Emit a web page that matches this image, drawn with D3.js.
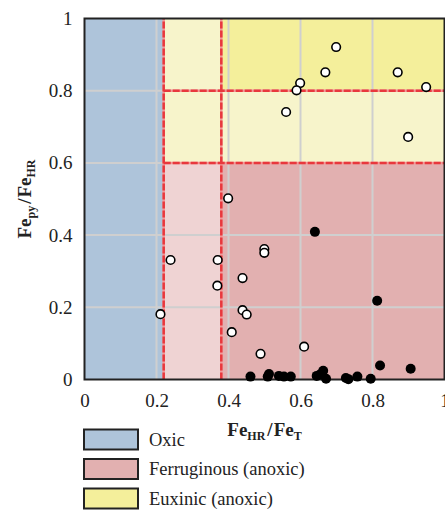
<!DOCTYPE html>
<html>
<head>
<meta charset="utf-8">
<script src="https://cdn.jsdelivr.net/npm/d3@7"></script>
<style>
  body { margin: 0; background: #fff; }
  text { font-family: "Liberation Serif", "DejaVu Serif", serif; }
</style>
</head>
<body>
<div id="chart"></div>
<script>
// axis ticks
var xTicks = [0, 0.2, 0.4, 0.6, 0.8, 1];
var yTicks = [0, 0.2, 0.4, 0.6, 0.8, 1];

// thresholds (FeHR/FeT and Fepy/FeHR)
var feHrLimits = [0.22, 0.38];
var fePyLimits = [0.6, 0.8];

// open circles
var openX = [0.699, 0.669, 0.599, 0.589, 0.870, 0.949, 0.560, 0.899, 0.399, 0.239, 0.370, 0.369, 0.211,
             0.4995, 0.4995, 0.439, 0.439, 0.4505, 0.409, 0.489, 0.610];
var openY = [0.921, 0.851, 0.821, 0.801, 0.851, 0.810, 0.741, 0.672, 0.502, 0.331, 0.331, 0.260, 0.181,
             0.3615, 0.351, 0.281, 0.192, 0.180, 0.131, 0.071, 0.091];

// filled circles
var filledX = [0.640, 0.813, 0.821, 0.906, 0.461, 0.5125, 0.509, 0.540, 0.554, 0.573,
               0.645, 0.654, 0.663, 0.671, 0.726, 0.733, 0.758, 0.795];
var filledY = [0.409, 0.218, 0.039, 0.030, 0.008, 0.015, 0.008, 0.010, 0.008, 0.008,
               0.010, 0.014, 0.024, 0.002, 0.004, 0.001, 0.008, 0.002];

var legendLabels = ["Oxic", "Ferruginous (anoxic)", "Euxinic (anoxic)"];
var legendColors = ["#aec4da", "#e2b0b0", "#f4ef9b"];

var width = 445, height = 511;
var svg = d3.select("#chart").append("svg")
    .attr("width", width)
    .attr("height", height);

var x = d3.scaleLinear().domain([0, 1]).range([84.5, 444.5]);
var y = d3.scaleLinear().domain([0, 1]).range([379.5, 18.5]);

// background regions
var regions = [
  {x0: 0, x1: feHrLimits[0], y0: 0, y1: 1, c: "#aec4da"},
  {x0: feHrLimits[0], x1: feHrLimits[1], y0: 0, y1: fePyLimits[0], c: "#efd3d3"},
  {x0: feHrLimits[0], x1: feHrLimits[1], y0: fePyLimits[0], y1: 1, c: "#f7f4cb"},
  {x0: feHrLimits[1], x1: 1, y0: 0, y1: fePyLimits[0], c: "#e2b0b0"},
  {x0: feHrLimits[1], x1: 1, y0: fePyLimits[0], y1: fePyLimits[1], c: "#f7f4cb"},
  {x0: feHrLimits[1], x1: 1, y0: fePyLimits[1], y1: 1, c: "#f4ef9b"}
];
svg.selectAll(".region")
    .data(regions)
    .enter().append("rect")
    .attr("x", d => x(d.x0))
    .attr("y", d => y(d.y1))
    .attr("width", d => x(d.x1) - x(d.x0))
    .attr("height", d => y(d.y0) - y(d.y1))
    .attr("fill", d => d.c);

// grid
svg.selectAll(".vgrid")
    .data(xTicks.slice(1, -1))
    .enter().append("line")
    .attr("x1", d => x(d)).attr("x2", d => x(d))
    .attr("y1", y(1)).attr("y2", y(0))
    .attr("stroke", "#cfcfcf").attr("stroke-width", 2);
svg.selectAll(".hgrid")
    .data(yTicks.slice(1, -1))
    .enter().append("line")
    .attr("x1", x(0)).attr("x2", x(1))
    .attr("y1", d => y(d)).attr("y2", d => y(d))
    .attr("stroke", "#cfcfcf").attr("stroke-width", 2);

// red dashed threshold lines
var redLines = feHrLimits.map(v => ({x1: v, x2: v, y1: 0, y2: 1}))
  .concat(fePyLimits.map(v => ({x1: feHrLimits[0], x2: 1, y1: v, y2: v})));
[["#f29a9a", null], ["#e8383d", "7,2"]].forEach(function(s) {
  svg.selectAll(null)
      .data(redLines)
      .enter().append("line")
      .attr("x1", d => x(d.x1)).attr("x2", d => x(d.x2))
      .attr("y1", d => y(d.y1)).attr("y2", d => y(d.y2))
      .attr("stroke", s[0])
      .attr("stroke-width", 2.5)
      .attr("stroke-dasharray", s[1]);
});

// frame
svg.append("rect")
    .attr("x", x(0)).attr("y", y(1))
    .attr("width", x(1) - x(0)).attr("height", y(0) - y(1))
    .attr("fill", "none").attr("stroke", "#222").attr("stroke-width", 2);

// axes
var xAxis = svg.append("g")
    .attr("transform", "translate(0," + y(0) + ")")
    .call(d3.axisBottom(x).tickValues(xTicks).tickSize(0).tickPadding(14).tickFormat(d3.format("~g")));
var yAxis = svg.append("g")
    .attr("transform", "translate(" + x(0) + ",0)")
    .call(d3.axisLeft(y).tickValues(yTicks).tickSize(0).tickPadding(12).tickFormat(d3.format("~g")));
[xAxis, yAxis].forEach(function(a) {
  a.select(".domain").remove();
  a.selectAll("text")
      .attr("font-size", 19)
      .attr("fill", "#222");
});
yAxis.selectAll("text").attr("dy", "0.32em");

// points
svg.selectAll(".open")
    .data(openX.map((v, i) => [v, openY[i]]))
    .enter().append("circle")
    .attr("cx", d => x(d[0])).attr("cy", d => y(d[1]))
    .attr("r", 4.3)
    .attr("fill", "#fff").attr("stroke", "#000").attr("stroke-width", 1.6);
svg.selectAll(".filled")
    .data(filledX.map((v, i) => [v, filledY[i]]))
    .enter().append("circle")
    .attr("cx", d => x(d[0])).attr("cy", d => y(d[1]))
    .attr("r", 5)
    .attr("fill", "#000");

// axis titles
var xt = svg.append("text")
    .attr("x", (x(0) + x(1)) / 2).attr("y", 436)
    .attr("text-anchor", "middle")
    .attr("font-weight", "bold").attr("font-size", 19).attr("fill", "#222");
xt.append("tspan").text("Fe");
xt.append("tspan").text("HR").attr("font-size", 12).attr("dy", 4);
xt.append("tspan").text("/").attr("dy", -4).attr("dx", 2);
xt.append("tspan").text("Fe").attr("dx", 1);
xt.append("tspan").text("T").attr("font-size", 12).attr("dy", 4);

var yt = svg.append("text")
    .attr("transform", "translate(31," + (y(0) + y(1)) / 2 + ") rotate(-90)")
    .attr("text-anchor", "middle")
    .attr("font-weight", "bold").attr("font-size", 19).attr("fill", "#222");
yt.append("tspan").text("Fe");
yt.append("tspan").text("py").attr("font-size", 12).attr("dy", 4);
yt.append("tspan").text("/").attr("dy", -4).attr("dx", 2);
yt.append("tspan").text("Fe").attr("dx", 1);
yt.append("tspan").text("HR").attr("font-size", 12).attr("dy", 4);

// legend
var legend = svg.selectAll(".legend")
    .data(legendLabels)
    .enter().append("g")
    .attr("transform", (d, i) => "translate(84," + (429.5 + i * 29.5) + ")");
legend.append("rect")
    .attr("width", 54).attr("height", 20)
    .attr("fill", (d, i) => legendColors[i])
    .attr("stroke", "#222").attr("stroke-width", 2);
legend.append("text")
    .attr("x", 65).attr("y", 16)
    .attr("font-size", 18.5).attr("fill", "#222")
    .text(d => d);
</script>
</body>
</html>
